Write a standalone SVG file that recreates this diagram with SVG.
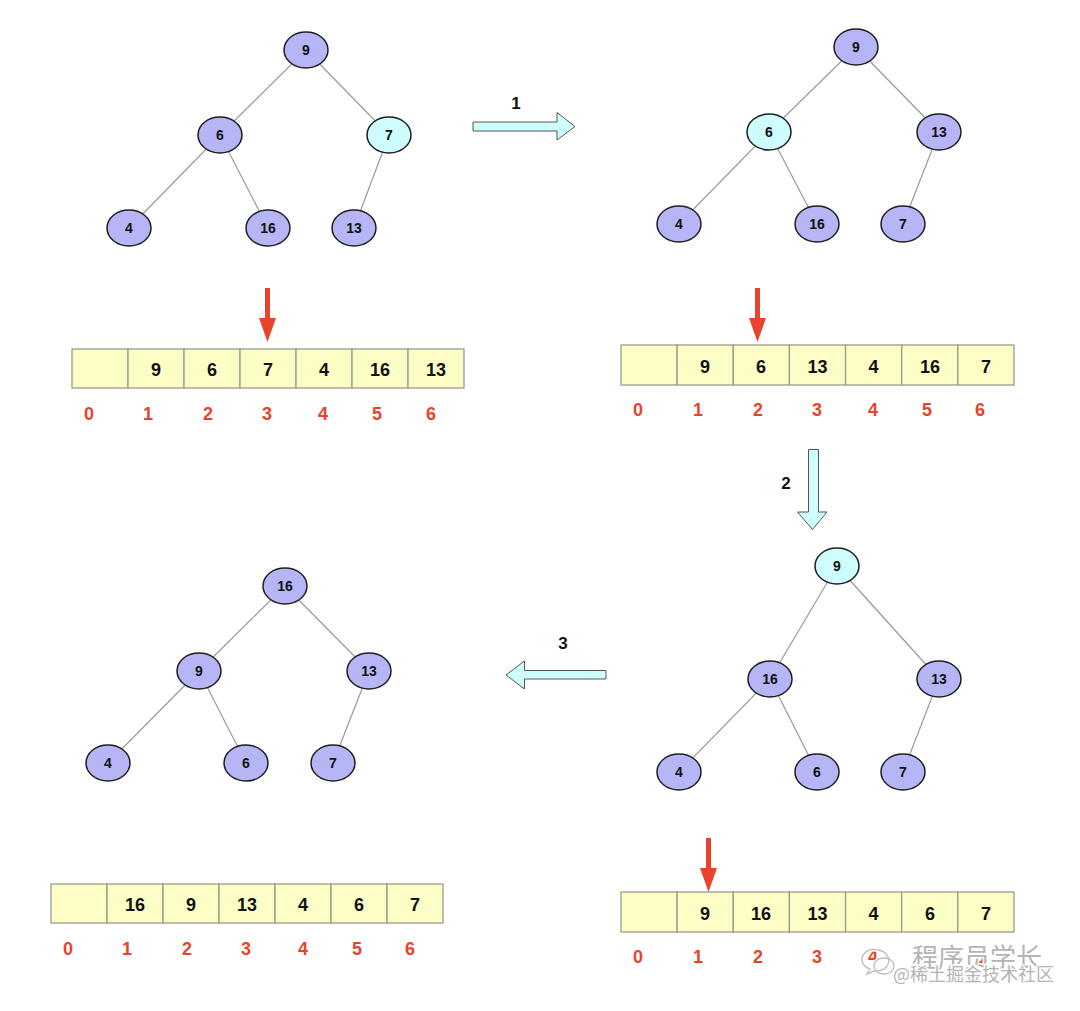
<svg xmlns="http://www.w3.org/2000/svg" width="1080" height="1011" viewBox="0 0 1080 1011">
<style>
.node ellipse{stroke:#1e1e1e;stroke-width:1.5}
.p ellipse{fill:#b6b6f6}
.c ellipse{fill:#cdfdfd}
.node text{font-family:"Liberation Sans",Arial,sans-serif;font-weight:bold;font-size:14px;fill:#111;text-anchor:middle}
.edge{stroke:#9a9a9a;stroke-width:1.2;fill:none}
.cell{fill:#fdfdc6;stroke:#9c9c8c;stroke-width:1.3}
.val{font-family:"Liberation Sans",Arial,sans-serif;font-weight:bold;font-size:18px;fill:#111;text-anchor:middle}
.idx{font-family:"Liberation Sans",Arial,sans-serif;font-weight:bold;font-size:18px;fill:#e8432c;text-anchor:middle}
.red{fill:#e8432c}
.big{fill:#cdfdfd;stroke:#555;stroke-width:1}
.lbl{font-family:"Liberation Sans",Arial,sans-serif;font-weight:bold;font-size:17px;fill:#111;text-anchor:middle}
.wm{font-family:"Noto Sans CJK SC","Liberation Sans",sans-serif;fill:#b4b4b4;stroke:#fff;stroke-width:3;paint-order:stroke;text-anchor:start}
</style>
<rect width="1080" height="1011" fill="#fff"/>

<!-- connectors -->
<g id="connectors">
  <!-- tree 1 -->
  <line class="edge" x1="306" y1="50" x2="220" y2="135"/>
  <line class="edge" x1="306" y1="50" x2="389" y2="135"/>
  <line class="edge" x1="220" y1="135" x2="129" y2="228"/>
  <line class="edge" x1="220" y1="135" x2="268" y2="228"/>
  <line class="edge" x1="389" y1="135" x2="354" y2="228"/>
  <!-- tree 2 -->
  <line class="edge" x1="856" y1="47" x2="769" y2="132"/>
  <line class="edge" x1="856" y1="47" x2="939" y2="132"/>
  <line class="edge" x1="769" y1="132" x2="679" y2="224"/>
  <line class="edge" x1="769" y1="132" x2="817" y2="224"/>
  <line class="edge" x1="939" y1="132" x2="903" y2="224"/>
  <!-- tree 3 -->
  <line class="edge" x1="837" y1="566" x2="770" y2="679"/>
  <line class="edge" x1="837" y1="566" x2="939" y2="679"/>
  <line class="edge" x1="770" y1="679" x2="679" y2="772"/>
  <line class="edge" x1="770" y1="679" x2="817" y2="772"/>
  <line class="edge" x1="939" y1="679" x2="903" y2="772"/>
  <!-- tree 4 -->
  <line class="edge" x1="285" y1="586" x2="199" y2="671"/>
  <line class="edge" x1="285" y1="586" x2="369" y2="671"/>
  <line class="edge" x1="199" y1="671" x2="108" y2="763"/>
  <line class="edge" x1="199" y1="671" x2="246" y2="763"/>
  <line class="edge" x1="369" y1="671" x2="333" y2="763"/>
  <!-- step arrows -->
  <path class="big" d="M473 122 H557 V112.5 L575 126.5 L557 140 V131 H473 Z"/>
  <path class="big" d="M808.5 449.5 H818.5 V512 H827 L812.5 529.5 L797.5 512 H808.5 Z"/>
  <path class="big" d="M606 670.5 H524.5 V661 L506 675 L524.5 689 V679 H606 Z"/>
  <!-- red pointer arrows -->
  <path class="red" d="M265 288 H270 V318 H276 L267.5 342 L259 318 H265 Z"/>
  <path class="red" d="M755 288 H760 V318 H766 L757.5 342 L749 318 H755 Z"/>
  <path class="red" d="M706 838 H711 V868 H717 L708.5 892 L700 868 H706 Z"/>
</g>

<text class="lbl" x="516" y="109">1</text>
<text class="lbl" x="786" y="489">2</text>
<text class="lbl" x="563" y="649">3</text>

<!-- tree 1 -->
<g id="t1-9" class="node p"><ellipse cx="306" cy="50" rx="22" ry="18"/><text x="306" y="55">9</text></g>
<g id="t1-6" class="node p"><ellipse cx="220" cy="135" rx="22" ry="18"/><text x="220" y="140">6</text></g>
<g id="t1-7" class="node c"><ellipse cx="389" cy="135" rx="22" ry="18"/><text x="389" y="140">7</text></g>
<g id="t1-4" class="node p"><ellipse cx="129" cy="228" rx="22" ry="18"/><text x="129" y="233">4</text></g>
<g id="t1-16" class="node p"><ellipse cx="268" cy="228" rx="22" ry="18"/><text x="268" y="233">16</text></g>
<g id="t1-13" class="node p"><ellipse cx="354" cy="228" rx="22" ry="18"/><text x="354" y="233">13</text></g>

<!-- tree 2 -->
<g id="t2-9" class="node p"><ellipse cx="856" cy="47" rx="22" ry="18"/><text x="856" y="52">9</text></g>
<g id="t2-6" class="node c"><ellipse cx="769" cy="132" rx="22" ry="18"/><text x="769" y="137">6</text></g>
<g id="t2-13" class="node p"><ellipse cx="939" cy="132" rx="22" ry="18"/><text x="939" y="137">13</text></g>
<g id="t2-4" class="node p"><ellipse cx="679" cy="224" rx="22" ry="18"/><text x="679" y="229">4</text></g>
<g id="t2-16" class="node p"><ellipse cx="817" cy="224" rx="22" ry="18"/><text x="817" y="229">16</text></g>
<g id="t2-7" class="node p"><ellipse cx="903" cy="224" rx="22" ry="18"/><text x="903" y="229">7</text></g>

<!-- tree 3 -->
<g id="t3-9" class="node c"><ellipse cx="837" cy="566" rx="22" ry="18"/><text x="837" y="571">9</text></g>
<g id="t3-16" class="node p"><ellipse cx="770" cy="679" rx="22" ry="18"/><text x="770" y="684">16</text></g>
<g id="t3-13" class="node p"><ellipse cx="939" cy="679" rx="22" ry="18"/><text x="939" y="684">13</text></g>
<g id="t3-4" class="node p"><ellipse cx="679" cy="772" rx="22" ry="18"/><text x="679" y="777">4</text></g>
<g id="t3-6" class="node p"><ellipse cx="817" cy="772" rx="22" ry="18"/><text x="817" y="777">6</text></g>
<g id="t3-7" class="node p"><ellipse cx="903" cy="772" rx="22" ry="18"/><text x="903" y="777">7</text></g>

<!-- tree 4 -->
<g id="t4-16" class="node p"><ellipse cx="285" cy="586" rx="22" ry="18"/><text x="285" y="591">16</text></g>
<g id="t4-9" class="node p"><ellipse cx="199" cy="671" rx="22" ry="18"/><text x="199" y="676">9</text></g>
<g id="t4-13" class="node p"><ellipse cx="369" cy="671" rx="22" ry="18"/><text x="369" y="676">13</text></g>
<g id="t4-4" class="node p"><ellipse cx="108" cy="763" rx="22" ry="18"/><text x="108" y="768">4</text></g>
<g id="t4-6" class="node p"><ellipse cx="246" cy="763" rx="22" ry="18"/><text x="246" y="768">6</text></g>
<g id="t4-7" class="node p"><ellipse cx="333" cy="763" rx="22" ry="18"/><text x="333" y="768">7</text></g>

<!-- array 1 -->
<g id="array1">
  <rect class="cell" x="72" y="349" width="56" height="39"/>
  <rect class="cell" x="128" y="349" width="56" height="39"/>
  <rect class="cell" x="184" y="349" width="56" height="39"/>
  <rect class="cell" x="240" y="349" width="56" height="39"/>
  <rect class="cell" x="296" y="349" width="56" height="39"/>
  <rect class="cell" x="352" y="349" width="56" height="39"/>
  <rect class="cell" x="408" y="349" width="56" height="39"/>
  <text class="val" x="156" y="376">9</text>
  <text class="val" x="212" y="376">6</text>
  <text class="val" x="268" y="376">7</text>
  <text class="val" x="324" y="376">4</text>
  <text class="val" x="380" y="376">16</text>
  <text class="val" x="436" y="376">13</text>
  <text class="idx" x="89" y="420">0</text>
  <text class="idx" x="148" y="420">1</text>
  <text class="idx" x="208" y="420">2</text>
  <text class="idx" x="267" y="420">3</text>
  <text class="idx" x="323" y="420">4</text>
  <text class="idx" x="377" y="420">5</text>
  <text class="idx" x="431" y="420">6</text>
</g>

<!-- array 2 -->
<g id="array2">
  <rect class="cell" x="621" y="345" width="56.14" height="40"/>
  <rect class="cell" x="677.14" y="345" width="56.14" height="40"/>
  <rect class="cell" x="733.28" y="345" width="56.14" height="40"/>
  <rect class="cell" x="789.42" y="345" width="56.14" height="40"/>
  <rect class="cell" x="845.56" y="345" width="56.14" height="40"/>
  <rect class="cell" x="901.7" y="345" width="56.14" height="40"/>
  <rect class="cell" x="957.84" y="345" width="56.14" height="40"/>
  <text class="val" x="705" y="373">9</text>
  <text class="val" x="761" y="373">6</text>
  <text class="val" x="817.5" y="373">13</text>
  <text class="val" x="873.5" y="373">4</text>
  <text class="val" x="930" y="373">16</text>
  <text class="val" x="986" y="373">7</text>
  <text class="idx" x="638" y="416">0</text>
  <text class="idx" x="698" y="416">1</text>
  <text class="idx" x="758" y="416">2</text>
  <text class="idx" x="817" y="416">3</text>
  <text class="idx" x="873" y="416">4</text>
  <text class="idx" x="927" y="416">5</text>
  <text class="idx" x="980" y="416">6</text>
</g>

<!-- array 3 -->
<g id="array3">
  <rect class="cell" x="51" y="884" width="56" height="39"/>
  <rect class="cell" x="107" y="884" width="56" height="39"/>
  <rect class="cell" x="163" y="884" width="56" height="39"/>
  <rect class="cell" x="219" y="884" width="56" height="39"/>
  <rect class="cell" x="275" y="884" width="56" height="39"/>
  <rect class="cell" x="331" y="884" width="56" height="39"/>
  <rect class="cell" x="387" y="884" width="56" height="39"/>
  <text class="val" x="135" y="911">16</text>
  <text class="val" x="191" y="911">9</text>
  <text class="val" x="247" y="911">13</text>
  <text class="val" x="303" y="911">4</text>
  <text class="val" x="359" y="911">6</text>
  <text class="val" x="415" y="911">7</text>
  <text class="idx" x="68" y="955">0</text>
  <text class="idx" x="127" y="955">1</text>
  <text class="idx" x="187" y="955">2</text>
  <text class="idx" x="246" y="955">3</text>
  <text class="idx" x="303" y="955">4</text>
  <text class="idx" x="357" y="955">5</text>
  <text class="idx" x="410" y="955">6</text>
</g>

<!-- array 4 -->
<g id="array4">
  <rect class="cell" x="621" y="892" width="56.14" height="40"/>
  <rect class="cell" x="677.14" y="892" width="56.14" height="40"/>
  <rect class="cell" x="733.28" y="892" width="56.14" height="40"/>
  <rect class="cell" x="789.42" y="892" width="56.14" height="40"/>
  <rect class="cell" x="845.56" y="892" width="56.14" height="40"/>
  <rect class="cell" x="901.7" y="892" width="56.14" height="40"/>
  <rect class="cell" x="957.84" y="892" width="56.14" height="40"/>
  <text class="val" x="705" y="920">9</text>
  <text class="val" x="761" y="920">16</text>
  <text class="val" x="817.5" y="920">13</text>
  <text class="val" x="873.5" y="920">4</text>
  <text class="val" x="930" y="920">6</text>
  <text class="val" x="986" y="920">7</text>
  <text class="idx" x="638" y="963">0</text>
  <text class="idx" x="698" y="963">1</text>
  <text class="idx" x="758" y="963">2</text>
  <text class="idx" x="817" y="963">3</text>
  <text class="idx" x="873" y="963">4</text>
  <text class="idx" x="927" y="963">5</text>
  <text class="idx" x="980" y="963">6</text>
</g>

<!-- watermark -->
<g id="watermark">
  <g fill="none" stroke="#fff" stroke-width="4">
    <path d="M878 950 a12 10 0 1 0 -8 19 l-3 5 l7 -3 a12 10 0 0 0 4 -21 z"/>
    <ellipse cx="884" cy="966" rx="10" ry="8"/>
  </g>
  <g fill="none" stroke="#bdbdbd" stroke-width="1.3">
    <path d="M878 950 a12 10 0 1 0 -8 19 l-3 5 l7 -3 a12 10 0 0 0 4 -21 z"/>
    <ellipse cx="884" cy="966" rx="10" ry="8"/>
  </g>
  <text class="wm" x="912" y="967" font-size="26">程序员学长</text>
  <text class="wm" x="893" y="981" font-size="18">@稀土掘金技术社区</text>
</g>
</svg>
